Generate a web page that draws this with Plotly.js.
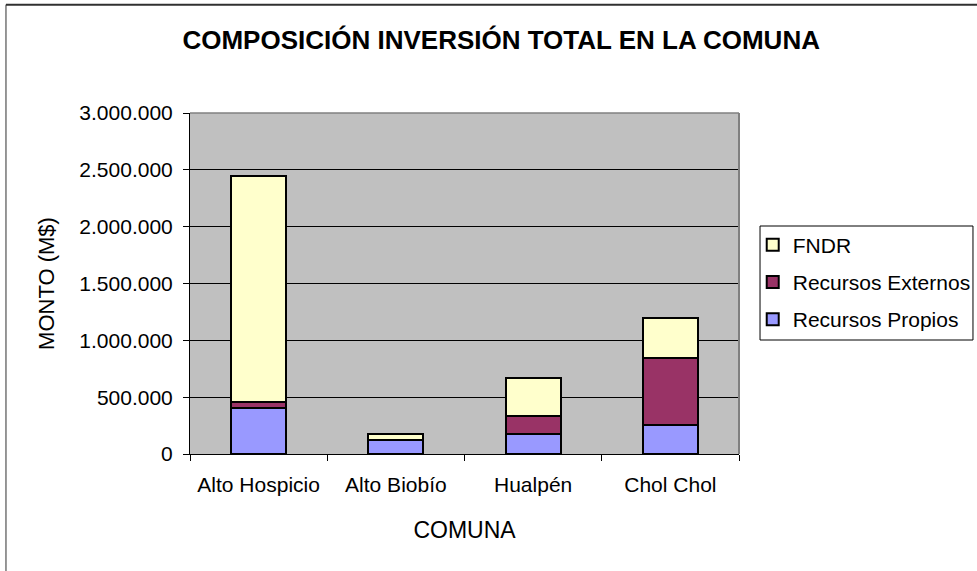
<!DOCTYPE html>
<html>
<head>
<meta charset="utf-8">
<script src="https://cdn.plot.ly/plotly-3.0.1.min.js"></script>
<style>html,body{margin:0;padding:0;background:#fff;}#chart{width:977px;height:571px;}</style>
</head>
<body>
<div id="chart"></div>
<script>
var comunas = ["Alto Hospicio", "Alto Biobío", "Hualpén", "Chol Chol"];
var recursosPropios = [407000, 120000, 173000, 258000];
var recursosExternos = [48000, 0, 159000, 589000];
var fndr = [1987000, 56000, 338000, 349000];
var yTicks = [0, 500000, 1000000, 1500000, 2000000, 2500000, 3000000];

var FONT = "Liberation Sans, Arial, sans-serif";
var line = {color: "#000000", width: 2};

var traces = [
  {type: "bar", name: "Recursos Propios", x: comunas, y: recursosPropios,
   marker: {color: "#9999FF", line: line}, legendgroup: "a", legendrank: 3},
  {type: "bar", name: "Recursos Externos", x: comunas, y: recursosExternos,
   marker: {color: "#993366", line: line}, legendgroup: "b", legendrank: 2},
  {type: "bar", name: "FNDR", x: comunas, y: fndr,
   marker: {color: "#FFFFCC", line: line}, legendgroup: "c", legendrank: 1}
];

var layout = {
  width: 977, height: 571,
  margin: {l: 190, r: 238, t: 113, b: 117, pad: 0, autoexpand: false},
  paper_bgcolor: "#FFFFFF",
  plot_bgcolor: "#C0C0C0",
  barmode: "stack",
  bargap: 0.6,
  separators: ",.",
  font: {family: FONT, size: 21, color: "#000000"},
  title: {text: "<b>COMPOSICIÓN INVERSIÓN TOTAL EN LA COMUNA</b>",
          font: {family: FONT, size: 26, color: "#000000"},
          x: 0.513, xref: "container", xanchor: "center",
          y: 0.93, yref: "container", yanchor: "middle"},
  xaxis: {
    type: "category",
    showgrid: false,
    showline: true, linecolor: "#000000", linewidth: 1,
    ticks: "outside", ticklen: 6, tickcolor: "#000000", tickson: "boundaries",
    ticklabelstandoff: 12,
    tickfont: {family: FONT, size: 21},
    title: {text: "COMUNA", font: {family: FONT, size: 23}, standoff: 26},
    zeroline: false, fixedrange: true
  },
  yaxis: {
    range: [0, 3000000],
    tickvals: yTicks,
    tickformat: ",d",
    showgrid: true, gridcolor: "#000000", gridwidth: 1,
    showline: true, linecolor: "#000000", linewidth: 1,
    ticks: "outside", ticklen: 6, tickcolor: "#000000",
    ticklabelstandoff: 6,
    tickfont: {family: FONT, size: 21},
    title: {text: "MONTO (M$)", font: {family: FONT, size: 22}, standoff: 18},
    zeroline: false, fixedrange: true
  },
  legend: {
    x: 1.025, xanchor: "left", y: 0.673, yanchor: "top",
    bgcolor: "rgba(0,0,0,0)", borderwidth: 0,
    font: {family: FONT, size: 21},
    tracegroupgap: 7, traceorder: "grouped"
  },
  shapes: [
    {type: "line", xref: "paper", yref: "paper", x0: 1, x1: 1, y0: 0, y1: 1,
     line: {color: "#808080", width: 2}},
    {type: "line", xref: "paper", yref: "paper", x0: 0, x1: 1, y0: 1, y1: 1,
     line: {color: "#808080", width: 1.5}},
    {type: "rect", xref: "paper", yref: "paper", x0: 1.0383, x1: 1.4262, y0: 0.3343, y1: 0.6686,
     line: {color: "#000000", width: 1}, fillcolor: "rgba(0,0,0,0)"},
    {type: "line", xref: "paper", yref: "paper", x0: -0.3352, x1: -0.3352, y0: -0.5, y1: 1.3177,
     line: {color: "#303030", width: 1}},
    {type: "line", xref: "paper", yref: "paper", x0: -0.3352, x1: 1.5, y0: 1.3177, y1: 1.3177,
     line: {color: "#303030", width: 2}}
  ],
  showlegend: true
};

Plotly.newPlot("chart", traces, layout, {displayModeBar: false, staticPlot: true});
</script>
</body>
</html>
